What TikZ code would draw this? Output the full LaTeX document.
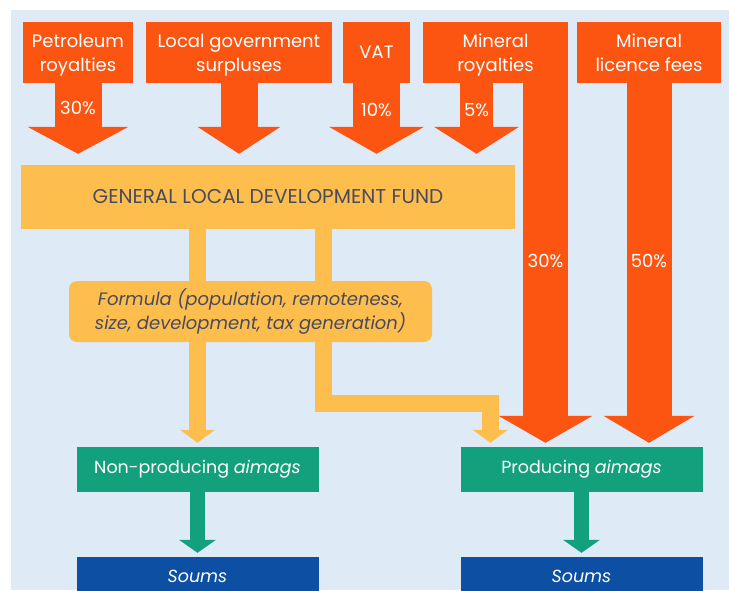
\documentclass[tikz,border=0pt]{standalone}
\usepackage{fontspec}
\setmainfont{Poppins}
\usetikzlibrary{arrows.meta}

\definecolor{rvBg}{HTML}{DFEAF7}
\definecolor{rvOrange}{HTML}{FC5512}
\definecolor{rvYellow}{HTML}{FDBE4D}
\definecolor{rvGreen}{HTML}{13A07C}
\definecolor{rvBlue}{HTML}{0C4FA3}
\definecolor{rvText}{HTML}{4A4A5E}

\tikzset{
	src/.style={fill=rvOrange, text=white, align=center, inner sep=0pt, minimum height=61pt, text depth=0pt, font=\fontsize{18}{24}\selectfont},
	fundbox/.style={fill=rvYellow, text=rvText, inner sep=0pt, font=\fontsize{20}{24}\selectfont},
	aimag/.style={fill=rvGreen, text=white, inner sep=0pt, minimum width=242pt, minimum height=45pt, font=\fontsize{17.5}{20}\selectfont},
	soum/.style={fill=rvBlue, text=white, inner sep=0pt, minimum width=242pt, minimum height=38pt, font=\fontsize{17.5}{20}\selectfont\itshape},
	pct/.style={text=white, font=\fontsize{18}{20}\selectfont},
	flow/.style 2 args={draw=rvOrange, line width=#1, -{Triangle[length=27pt,width=#2,line width=0pt]}},
	yflow/.style={draw=rvYellow, line width=17pt, line join=miter},
	ytip/.style={-{Triangle[length=13pt,width=35pt,line width=0pt]}, shorten >=4pt},
	gflow/.style={draw=rvGreen, line width=15pt, -{Triangle[length=13pt,width=37pt,line width=0pt]}, shorten >=4pt},
}

\begin{document}
\begin{tikzpicture}[x=1pt, y=-1pt]
	%%%%% START %%%%%
	\useasboundingbox (0,0) rectangle (729,590);
	\fill[rvBg] (11,10) rectangle (729,590);

	% revenue sources
	\node[src, minimum width=110pt] (pet) at (78,52.5) {Petroleum\\royalties};
	\node[src, minimum width=186pt] (lgs) at (239,52.5) {Local government\\surpluses};
	\node[src, minimum width=67pt] (vat) at (376.5,52.5) {VAT};
	\node[src, minimum width=145pt] (mro) at (495.5,52.5) {Mineral\\royalties};
	\node[src, minimum width=144pt] (mlf) at (649,52.5) {Mineral\\licence fees};

	% fund and formula
	\node[fundbox, minimum width=494pt, minimum height=64pt] (fund) at (268,197) {GENERAL LOCAL DEVELOPMENT FUND};
	\node[fundbox, minimum width=363pt, minimum height=61pt, rounded corners=8pt, align=center, font=\fontsize{18}{24}\selectfont\itshape] (frm) at (250.5,311.5) {Formula (population, remoteness,\\size, development, tax generation)};

	% aimags and soums
	\node[aimag] (npa) at (197.5,469.5) {Non-producing \textit{aimags}};
	\node[aimag] (pra) at (581.5,469.5) {Producing \textit{aimags}};
	\node[soum] (nps) at (197.5,576) {Soums};
	\node[soum] (prs) at (581.5,576) {Soums};

	\coordinate (prin) at ([xshift=30pt]pra.north west);
	\coordinate (frmr) at ([xshift=73pt]frm.north);

	% shares into the fund
	\draw[flow={47pt}{101pt}, shorten >=11pt] (pet.south) -- (pet.south |- fund.north) node[pct, pos=0.3] {30\%};
	\draw[flow={37pt}{83pt}, shorten >=11pt] (lgs.south) -- (lgs.south |- fund.north);
	\draw[flow={47pt}{95pt}, shorten >=11pt] (vat.south) -- (vat.south |- fund.north) node[pct, pos=0.33] {10\%};
	\draw[flow={33pt}{85pt}, shorten >=11pt] ([xshift=-19pt]mro.south) -- ([xshift=-19pt]mro.south |- fund.north) node[pct, pos=0.33] {5\%};

	% shares straight to producing aimags
	\draw[flow={45pt}{94pt}, shorten >=4pt] ([xshift=50pt]mro.south) -- ([xshift=50pt]mro.south |- pra.north) node[pct, pos=0.49] {30\%};
	\draw[flow={45pt}{91pt}, shorten >=4pt] (mlf.south) -- (mlf.south |- pra.north) node[pct, pos=0.49] {50\%};

	% fund through the formula
	\draw[yflow] (fund.south -| npa.north) -- (frm.north -| npa.north);
	\draw[yflow] (frmr |- fund.south) -- (frmr);
	\draw[yflow, ytip] (frm.south -| npa.north) -- (npa.north);
	\draw[yflow, ytip] (frmr |- frm.south) |- ([yshift=43.5pt]prin) -- (prin);

	% aimags to soums
	\draw[gflow] (npa) -- (nps);
	\draw[gflow] (pra) -- (prs);
	%%%%% END %%%%%
\end{tikzpicture}
\end{document}
